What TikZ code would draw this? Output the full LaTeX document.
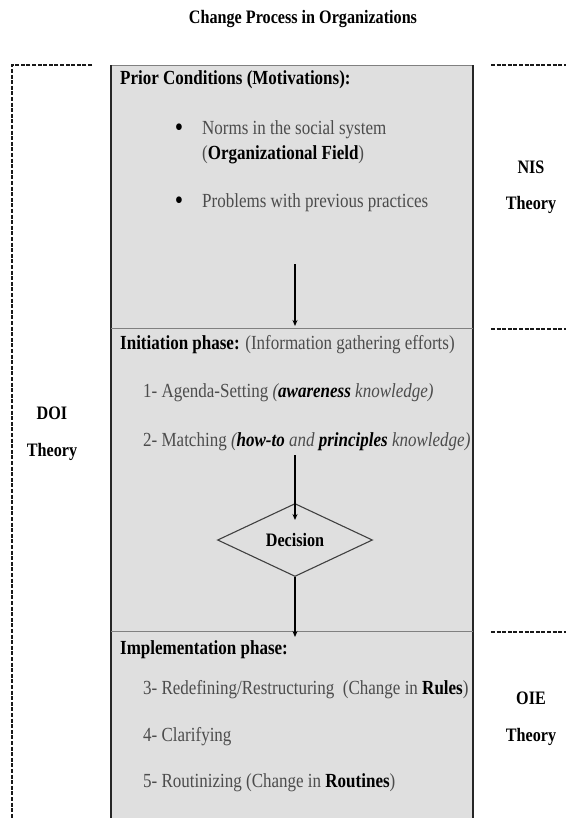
\documentclass[tikz,border=0pt]{standalone}
\usepackage{fontspec}
\setmainfont{Liberation Serif}[FakeStretch=0.85]
\usetikzlibrary{shapes.geometric,arrows.meta}
\definecolor{boxgray}{gray}{0.875}
\definecolor{txtgray}{gray}{0.3}
\tikzset{
    txt/.style = {anchor = west, inner sep = 0pt, text = txtgray, font = \fontsize{20}{24}\selectfont},
    head/.style = {anchor = west, inner sep = 0pt, font = \bfseries\fontsize{20}{24}\selectfont},
    theory/.style = {inner sep = 0pt, font = \bfseries\fontsize{19}{23}\selectfont},
    bracket/.style = {black!90, line width = 2.4pt, dash pattern = on 4pt off 1.6pt},
    flow/.style = {-{Stealth[length = 6pt, width = 5pt]}, line width = 1.3pt}
}
\newcommand{\blk}[1]{\textbf{\color{black}#1}}
\begin{document}
\begin{tikzpicture}[x = 1pt, y = -1pt]
        \useasboundingbox (0, 0) rectangle (566, 818);
        \fill[boxgray] (111, 65) rectangle (473, 818);
        \draw[gray, line width = 0.8pt] (111, 65) -- (473, 65);
        \draw[black!85, line width = 1.8pt] (111, 818) -- (111, 65);
        \draw[black!85, line width = 1.8pt] (473, 818) -- (473, 65);
        \draw[gray, line width = 0.7pt] (111, 328) -- (473, 328);
        \draw[gray, line width = 0.7pt] (111, 631) -- (473, 631);
        \draw[bracket] (92, 65) -- (12, 65) -- (12, 818);
        \foreach \y in {65, 329, 632}{
            \draw[bracket] (491, \y) -- (566, \y);
        }

        \node[theory] (title) at (303, 19) {Change Process in Organizations};

        \node[head] (prior) at (120, 80) {Prior Conditions (Motivations):};
        \node[txt, anchor = center, text = black, font = \fontsize{28}{28}\selectfont] (dot1) at (179, 130) {\textbullet};
        \node[txt] (norms) at (202, 130) {Norms in the social system};
        \node[txt] (field) at (202, 155) {(\blk{Organizational Field})};
        \node[txt, anchor = center, text = black, font = \fontsize{28}{28}\selectfont] (dot2) at (179, 203) {\textbullet};
        \node[txt] (probs) at (202, 203) {Problems with previous practices};

        \node[head] (init) at (120, 345) {Initiation phase: \textmd{\color{txtgray}(Information gathering efforts)}};
        \node[txt] (agenda) at (143, 393) {1- Agenda-Setting \textit{(\blk{awareness} knowledge)}};
        \node[txt] (match) at (143, 442) {2- Matching \textit{(\blk{how-to} and \blk{principles} knowledge)}};
        \node[diamond, draw = black!75, line width = 1.1pt, inner sep = 0pt, aspect = 2.1,
              minimum width = 155pt, minimum height = 73pt,
              font = \bfseries\fontsize{19}{23}\selectfont] (dec) at (295, 540) {Decision};

        \node[head] (impl) at (120, 650) {Implementation phase:};
        \node[txt] (step3) at (143, 690) {3- Redefining/Restructuring\ \ (Change in \blk{Rules})};
        \node[txt] (step4) at (143, 737) {4- Clarifying};
        \node[txt] (step5) at (143, 783) {5- Routinizing (Change in \blk{Routines})};

        \node[theory] (doi) at (52, 413) {DOI};
        \node[theory] (doith) at (52, 452) {Theory};
        \node[theory] (nis) at (531, 167) {NIS};
        \node[theory] (nisth) at (531, 205) {Theory};
        \node[theory] (oie) at (531, 698) {OIE};
        \node[theory] (oieth) at (531, 737) {Theory};

        \coordinate (out1) at (295, 264);
        \coordinate (in1) at (295, 326);
        \coordinate (out2) at (295, 455);
        \coordinate (in2) at (295, 520);
        \coordinate (in3) at (295, 637);
        \draw[flow] (out1) -- (in1);
        \draw[flow] (out2) -- (in2);
        \draw[flow] (dec.south) -- (in3);
    \end{tikzpicture}
\end{document}
